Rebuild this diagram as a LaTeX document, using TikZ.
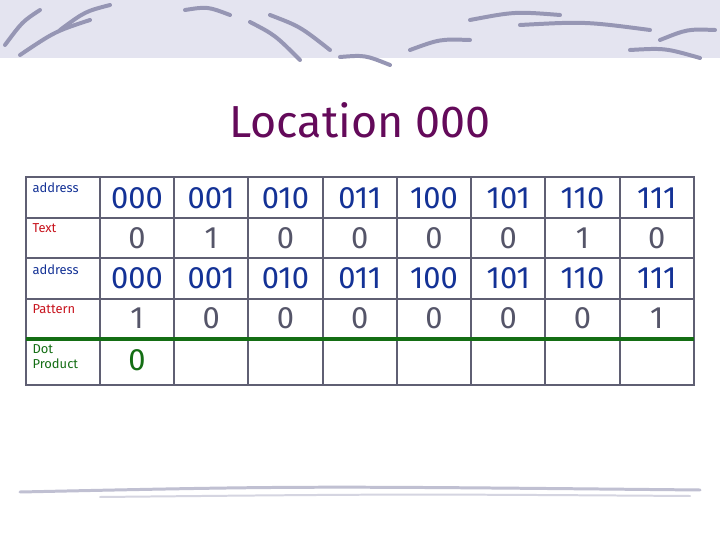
\documentclass[tikz,border=0pt]{standalone}
\usepackage{fontspec}
\setmainfont{Fira Sans}
\usetikzlibrary{positioning}

\definecolor{addrblue}{RGB}{20,50,150}
\definecolor{valgrey}{RGB}{85,85,105}
\definecolor{lblred}{RGB}{200,20,30}
\definecolor{dotgreen}{RGB}{20,110,20}
\definecolor{titlepurple}{RGB}{100,10,90}
\definecolor{gridgrey}{RGB}{95,95,115}
\definecolor{bandlav}{RGB}{228,228,240}
\definecolor{swirl}{RGB}{150,150,180}

\tikzset{
  lbl/.style={anchor=north west, font=\fontsize{13}{15}\selectfont, align=left},
  big/.style={font=\fontsize{31}{32}\selectfont},
}

\begin{document}
\begin{tikzpicture}[x=1bp,y=-1bp]
\useasboundingbox (0,0) rectangle (720,540);
\fill[white] (0,0) rectangle (720,540);

% top band and swirls
\fill[bandlav] (0,0) rectangle (720,58);
\foreach \a/\b/\c/\d in {5/45/40/10, 20/55/90/20, 60/30/110/5, 185/10/230/15, 250/22/300/60, 270/15/330/50, 340/57/390/65, 410/50/470/40, 470/20/560/15, 520/25/650/30, 630/50/700/58, 660/40/715/30}
  \draw[swirl, line width=4pt, line cap=round] (\a,\b) .. controls ({(\a+\c)/2},{(\b+\d)/2-6}) .. (\c,\d);

% bottom band
\draw[swirl!60, line width=3pt, line cap=round] (20,492) .. controls (300,486) .. (700,490);
\draw[swirl!40, line width=2pt, line cap=round] (100,497) .. controls (400,494) .. (690,496);

\node[titlepurple, font=\fontsize{45}{47}\selectfont] (title) at (360,120) {Location 000};

% grid
\draw[gridgrey, line width=1.3pt] (26,177) rectangle (694,385);
\foreach \y in {218,258,299} \draw[gridgrey, line width=1.3pt] (26,\y) -- (694,\y);
\foreach \x in {100,174,248,323,397,471,545,620} \draw[gridgrey, line width=1.3pt] (\x,177) -- (\x,385);
\draw[dotgreen, line width=4pt] (26,339) -- (694,339);

% labels
\node[lbl, addrblue] (la1) at (29,179) {address};
\node[lbl, lblred] (lt) at (29,220) {Text};
\node[lbl, addrblue] (la2) at (29,261) {address};
\node[lbl, lblred] (lp) at (29,301) {Pattern};
\node[lbl, dotgreen, inner ysep=1pt] (ld) at (29,343) {Dot\\Product};

% cells
\foreach \i/\ad/\t/\p in {0/000/0/1, 1/001/1/0, 2/010/0/0, 3/011/0/0, 4/100/0/0, 5/101/0/0, 6/110/1/0, 7/111/0/1} {
  \node[big, addrblue] (a\i) at ({137+74.25*\i},198) {\ad};
  \node[big, valgrey] (t\i) at ({137+74.25*\i},238) {\t};
  \node[big, addrblue] (b\i) at ({137+74.25*\i},278) {\ad};
  \node[big, valgrey] (p\i) at ({137+74.25*\i},318) {\p};
}
\node[big, dotgreen] (d0) at (137,360) {0};
\end{tikzpicture}
\end{document}
